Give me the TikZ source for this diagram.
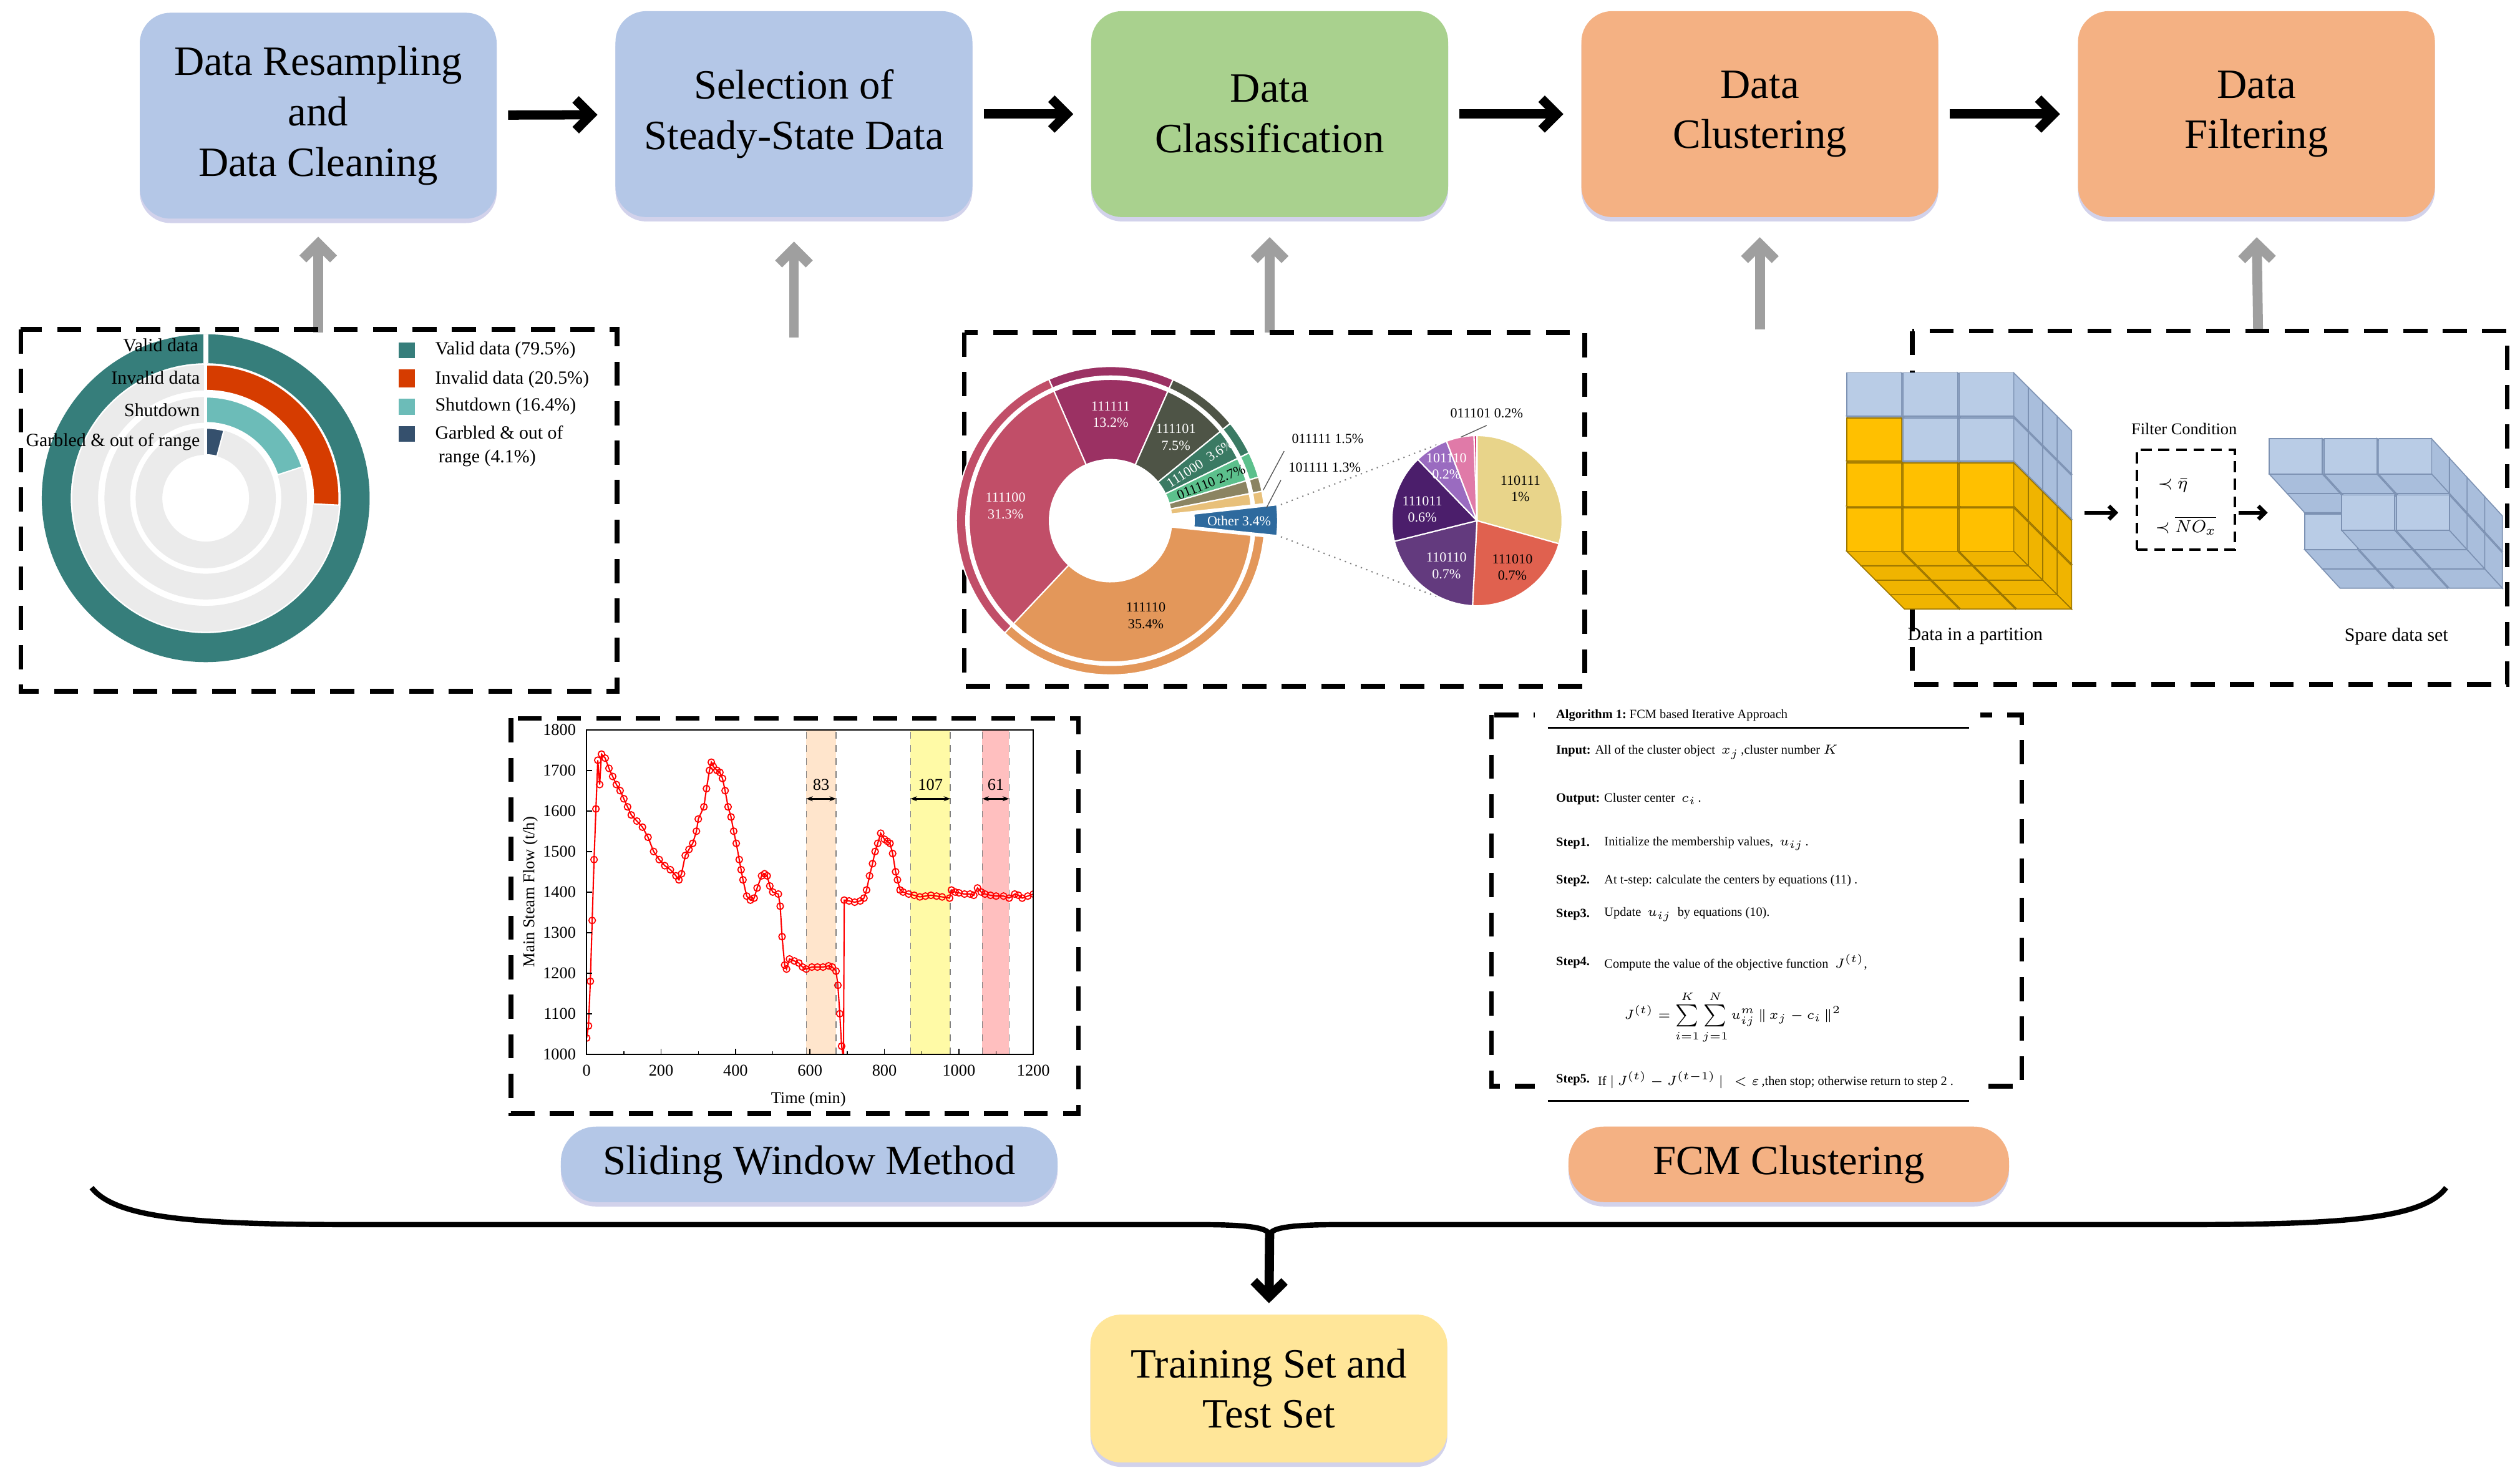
\documentclass[tikz,border=0pt]{standalone}
\usepackage{fontspec}
\setmainfont{Liberation Serif}
\usetikzlibrary{arrows.meta,shadows,calc,plotmarks}
\definecolor{boxblue}{HTML}{B4C7E7}
\definecolor{boxgreen}{HTML}{A9D18E}
\definecolor{boxorange}{HTML}{F4B183}
\definecolor{boxyellow}{HTML}{FFE699}
\definecolor{cteal}{HTML}{367E7B}
\definecolor{cred}{HTML}{D63C00}
\definecolor{cltl}{HTML}{6CBCB8}
\definecolor{cdkb}{HTML}{35506D}
\definecolor{cgray}{HTML}{EBEBEB}
\definecolor{pA}{HTML}{9B3163}
\definecolor{pB}{HTML}{4E5446}
\definecolor{pC}{HTML}{3A7A63}
\definecolor{pD}{HTML}{5CC08C}
\definecolor{pE}{HTML}{8B8462}
\definecolor{pF}{HTML}{E8C07A}
\definecolor{pG}{HTML}{2E6A9E}
\definecolor{pH}{HTML}{E3975A}
\definecolor{pI}{HTML}{C14E68}
\definecolor{sA}{HTML}{E8D48A}
\definecolor{sB}{HTML}{E0614F}
\definecolor{sC}{HTML}{633A7E}
\definecolor{sD}{HTML}{4B1E6B}
\definecolor{sE}{HTML}{9A6BC0}
\definecolor{sF}{HTML}{E07AA8}
\definecolor{sG}{HTML}{D43A7A}
\definecolor{cubeB}{HTML}{B9CCE6}
\definecolor{cubeBd}{HTML}{A9BEDC}
\definecolor{cubeBs}{HTML}{7D92B3}
\definecolor{cubeY}{HTML}{FFC000}
\definecolor{cubeYd}{HTML}{F0B400}
\definecolor{cubeYs}{HTML}{9C7600}
\newcommand\pieseg[5]{\fill[#5,draw=white,line width=0.6pt] (#3:#2) arc[start angle=#3,end angle=#4,radius=#2] -- (#4:#1) arc[start angle=#4,end angle=#3,radius=#1] -- cycle;}
\newcommand\mycube[6]{%
  \filldraw[#6] (#1+#3,#2) -- ++(\cdx,\cdy) -- ++(0,#4) -- ++(-\cdx,-\cdy) -- cycle;
  \filldraw[#6] (#1,#2+#4) -- ++(#3,0) -- ++(\cdx,\cdy) -- ++(-#3,0) -- cycle;
  \filldraw[#5] (#1,#2) rectangle ++(#3,#4);}
\begin{document}
\begin{tikzpicture}[x=0.02576cm,y=-0.02576cm,
  topbox/.style={rounded corners=14pt,minimum width=5.72cm,minimum height=3.3cm,align=center,
     font=\fontsize{19pt}{23pt}\selectfont,drop shadow={shadow xshift=0pt,shadow yshift=-2pt,opacity=0.25,fill=blue!40!gray}},
  pill/.style={rounded corners=16pt,minimum height=1.21cm,align=center,
     font=\fontsize{19pt}{23pt}\selectfont,drop shadow={shadow xshift=0pt,shadow yshift=-2pt,opacity=0.25,fill=blue!40!gray}},
  barrow/.style={line width=4.2pt,-{Straight Barb[length=7pt,width=14pt]}},
  garrow/.style={line width=4.5pt,gray!75,-{Straight Barb[length=7pt,width=14pt]}},
  dbox/.style={line width=2.2pt,dash pattern=on 11pt off 7pt},
  lbl/.style={font=\fontsize{8.5pt}{10pt}\selectfont},
  pl/.style={font=\fontsize{6.3pt}{7.5pt}\selectfont,align=center},
  al/.style={font=\fontsize{5.8pt}{7pt}\selectfont,anchor=west,inner sep=0pt},
  blueC/.style={fill=cubeB,draw=cubeBs,line width=0.45pt},
  blueS/.style={fill=cubeBd,draw=cubeBs,line width=0.45pt},
  yelC/.style={fill=cubeY,draw=cubeYs,line width=0.45pt},
  yelS/.style={fill=cubeYd,draw=cubeYs,line width=0.45pt}]
\useasboundingbox (0,0) rectangle (1568,922.7);
\fill[white] (0,0) rectangle (1568,922.7);

% ---------- top boxes ----------
\node[topbox,fill=boxblue] (b1) at (198,72) {Data Resampling\\and\\Data Cleaning};
\node[topbox,fill=boxblue] (b2) at (494,71) {Selection of\\Steady-State Data};
\node[topbox,fill=boxgreen] (b3) at (790,71) {Data\\Classification};
\node[topbox,fill=boxorange] (b4) at (1095,71) {Data\\Clustering};
\node[topbox,fill=boxorange] (b5) at (1404,71) {Data\\Filtering};
\foreach \a/\b in {b1/b2,b2/b3,b3/b4,b4/b5}
  \draw[barrow,shorten <=5pt,shorten >=8pt] (\a) -- (\b);

% ---------- gray arrows ----------
\coordinate (g1) at (198,207); \coordinate (g2) at (494,210); \coordinate (g3) at (790,207);
\coordinate (g4) at (1095,205); \coordinate (g5) at (1405,205);
\draw[garrow,shorten >=8pt] (g1) -- (b1.south);
\draw[garrow,shorten >=11pt] (g2) -- (b2.south);
\draw[garrow,shorten >=9pt] (g3) -- (b3.south);
\draw[garrow,shorten >=9pt] (g4) -- (b4.south);
\draw[garrow,shorten >=9pt] (g5) -- (b5.south);

% ---------- dashed panels ----------
\draw[dbox] (13,205) rectangle (384,430);
\draw[dbox] (600,207) rectangle (986,427);
\draw[dbox] (1190,206) rectangle (1560,426);
\draw[dbox] (318,447) rectangle (671,693);
\draw[dbox] (928,445) rectangle (1258,676);

% ---------- radial bar chart ----------
\begin{scope}[shift={(128,310)},yscale=-1]
  \fill[cteal,even odd rule] (0,0) circle (102) (0,0) circle (84);
  \fill[white] (-1.5,84) rectangle (1.5,102);
  \fill[cgray,even odd rule] (0,0) circle (83) (0,0) circle (67);
  \fill[cgray,even odd rule] (0,0) circle (63) (0,0) circle (47);
  \fill[cgray,even odd rule] (0,0) circle (43.6) (0,0) circle (27);
  \pieseg{67}{83}{90}{-3}{cred}
  \pieseg{47}{63}{90}{18}{cltl}
  \pieseg{27}{43.6}{90}{75}{cdkb}
  \fill[white] (-1,27) rectangle (1,102);
\end{scope}
\node[lbl,anchor=east,inner sep=1pt] (l1) at (125,215) {Valid data};
\node[lbl,anchor=east,inner sep=1pt] (l2) at (126,235) {Invalid data};
\node[lbl,anchor=east,inner sep=1pt] (l3) at (126,255) {Shutdown};
\node[lbl,anchor=east,inner sep=1pt] (l4) at (126,275) {Garbled \& out of range};
\fill[cteal] (248,213) rectangle (258,223);
\fill[cred] (248,230) rectangle (258,241);
\fill[cltl] (248,248) rectangle (258,258);
\fill[cdkb] (248,265) rectangle (258,275);
\node[lbl,anchor=west] (lg1) at (266,218) {Valid data (79.5\%)};
\node[lbl,anchor=west] (lg2) at (266,236) {Invalid data (20.5\%)};
\node[lbl,anchor=west] (lg3) at (266,253) {Shutdown (16.4\%)};
\node[lbl,anchor=west] (lg4) at (266,269) {Garbled \& out of};
\node[lbl,anchor=west] (lg5) at (268,285) {range (4.1\%)};

% ---------- donut pie ----------
\begin{scope}[shift={(691,324)},yscale=-1]
  \pieseg{38}{88}{113.6}{66.1}{pA}
  \pieseg{38}{88}{66.1}{39.1}{pB}
  \pieseg{38}{88}{39.1}{26.1}{pC}
  \pieseg{38}{88}{26.1}{16.4}{pD}
  \pieseg{38}{88}{16.4}{11.0}{pE}
  \pieseg{38}{88}{11.0}{6.3}{pF}
  \pieseg{38}{88}{-5.9}{-133.3}{pH}
  \pieseg{38}{88}{-133.3}{-246.4}{pI}
  \pieseg{90}{96}{113.6}{66.1}{pA}
  \pieseg{90}{96}{66.1}{39.1}{pB}
  \pieseg{90}{96}{39.1}{26.1}{pC}
  \pieseg{90}{96}{26.1}{16.4}{pD}
  \pieseg{90}{96}{16.4}{11.0}{pE}
  \pieseg{90}{96}{11.0}{6.3}{pF}
  \pieseg{90}{96}{-5.9}{-133.3}{pH}
  \pieseg{90}{96}{-133.3}{-246.4}{pI}
  \begin{scope}[shift={(14,0)}]
    \pieseg{38}{90}{6.3}{-5.9}{pG}
  \end{scope}
  \node[pl,white] (t1) at (90:66) {111111\\13.2\%};
  \node[pl,white] (t2) at (52:66) {111101\\7.5\%};
  \node[pl,white,rotate=33] (t3) at (32.6:66) {111000\ \ 3.6\%};
  \node[pl,rotate=22] (t4) at (21:67) {011110 2.7\%};
  \node[pl,white,inner sep=0pt] (t5) at (80,0) {Other 3.4\%};
  \node[pl] (t6) at (-69.6:63) {111110\\35.4\%};
  \node[pl,white] (t7) at (-188:66) {111100\\31.3\%};
\end{scope}
\node[pl,anchor=west] (c1) at (799,273) {011111 1.5\%};
\node[pl,anchor=west] (c2) at (797,291) {101111 1.3\%};
\coordinate (c1a) at (786,305); \coordinate (c2a) at (788,316);
\draw[gray!70!black,line width=0.4pt] (c1a) -- (c1.south west);
\draw[gray!70!black,line width=0.4pt] (c2a) -- (c2.south west);
\coordinate (o1) at (797,314); \coordinate (o2) at (797,334);
\coordinate (p1) at (896,276); \coordinate (p2) at (896,372);
\draw[gray,dotted,line width=0.6pt] (o1) -- (p1);
\draw[gray,dotted,line width=0.6pt] (o2) -- (p2);
\begin{scope}[shift={(919,324)},yscale=-1]
  \pieseg{0.01}{53}{90}{-15.7}{sA}
  \pieseg{0.01}{53}{-15.7}{-93}{sB}
  \pieseg{0.01}{53}{-93}{-166}{sC}
  \pieseg{0.01}{53}{-166}{-226}{sD}
  \pieseg{0.01}{53}{134}{111}{sE}
  \pieseg{0.01}{53}{111}{92}{sF}
  \pieseg{0.01}{53}{92}{90}{sG}
  \node[pl] (u1) at (27,20) {110111\\1\%};
  \node[pl] (u2) at (22,-29) {111010\\0.7\%};
  \node[pl,white] (u3) at (-19,-28) {110110\\0.7\%};
  \node[pl,white] (u4) at (-34,7) {111011\\0.6\%};
  \node[pl,white] (u5) at (-19,34) {101110\\0.2\%};
\end{scope}
\node[pl] (u6) at (925,257) {011101 0.2\%};
\coordinate (u6a) at (909,272);
\draw[gray!70!black,line width=0.4pt] (u6a) -- (u6.south);

% ---------- cubes ----------
\def\cdx{9}\def\cdy{9}
\foreach \d in {3,2,1,0}{\foreach \j in {0,...,3}{\foreach \i in {0,1,2}{%
  \pgfmathsetmacro\xx{1149+35*\i+9*\d}\pgfmathsetmacro\yy{232+28*\j+9*\d}%
  \pgfmathtruncatemacro\isb{(\j==0 || (\j==1 && \i>0)) ? 1 : 0}%
  \ifnum\isb=1 \mycube{\xx}{\yy}{34}{27}{blueC}{blueS}\else\mycube{\xx}{\yy}{34}{27}{yelC}{yelS}\fi}}}
\def\cdx{11}\def\cdy{12}
\foreach \d in {3,2,1,0}{\foreach \j in {0,1}{\foreach \i in {0,1,2}{%
  \pgfmathsetmacro\xx{1412+34*\i+11*\d}\pgfmathsetmacro\yy{273+23*\j+12*\d}%
  \pgfmathtruncatemacro\isb{(\j==0 || (\d>=1 && \i>0) || \d>=2) ? 1 : 0}%
  \ifnum\isb=1 \mycube{\xx}{\yy}{33}{22}{blueC}{blueS}\fi}}}
\node[font=\fontsize{7.5pt}{9pt}\selectfont] (fc) at (1359,267) {Filter Condition};
\node[draw,line width=1.1pt,dash pattern=on 5pt off 3pt,minimum width=1.57cm,minimum height=1.6cm] (fb) at (1360,311) {};
\node[font=\fontsize{8pt}{9pt}\selectfont] (f1) at (1352,302) {$\prec\bar{\eta}$};
\node[font=\fontsize{8pt}{9pt}\selectfont] (f2) at (1360,327) {$\prec\overline{NO_x}$};
\coordinate (ca) at (1297,319); \coordinate (cb) at (1318,319);
\coordinate (cc) at (1393,319); \coordinate (cd) at (1411,319);
\draw[line width=1.8pt,-{Straight Barb[length=3pt,width=6pt]}] (ca) -- (cb);
\draw[line width=1.8pt,-{Straight Barb[length=3pt,width=6pt]}] (cc) -- (cd);
\node[lbl] (dp) at (1229,396) {Data in a partition};
\node[lbl] (sd) at (1491,396) {Spare data set};

% ---------- line chart ----------
\begin{scope}[shift={(365,656)}]
\begin{scope}[x=0.005968cm,y=0.0065044cm,shift={(0,-1000)}]
  \fill[orange!20] (590,1000) rectangle (670,1800);
  \fill[yellow!35] (870,1000) rectangle (977,1800);
  \fill[red!25] (1063,1000) rectangle (1135,1800);
  \foreach \t in {590,670,870,977,1063,1135}
    \draw[gray,dashed,line width=0.4pt] (\t,1000) -- (\t,1800);
  \foreach \a/\b/\n in {590/670/83,870/977/107,1063/1135/61}{
    \draw[line width=0.7pt,{Stealth[length=3pt]}-{Stealth[length=3pt]}] (\a,1630) -- (\b,1630);
    \node[font=\fontsize{7.5pt}{8pt}\selectfont] at ({(\a+\b)/2},1665) {\n};}
  \begin{scope}
  \clip (0,1000) rectangle (1200,1800);
  \draw[red,line width=0.6pt,mark=o,mark size=1.5pt,mark options={line width=0.5pt}] plot coordinates {
  (0,1040)(5,1070)(10,1180)(15,1330)(20,1480)(25,1605)(30,1725)(35,1665)(40,1740)(50,1730)(60,1705)
  (70,1685)(80,1665)(90,1650)(100,1630)(110,1610)(120,1590)(135,1575)(150,1560)(165,1535)(180,1500)
  (195,1480)(210,1465)(225,1455)(240,1440)(248,1430)(255,1445)(265,1490)(275,1505)(285,1520)(295,1550)
  (300,1580)(315,1610)(322,1655)(330,1700)(335,1720)(340,1710)(350,1700)(358,1695)(365,1680)(372,1650)
  (380,1610)(388,1585)(395,1550)(402,1520)(410,1480)(415,1455)(420,1430)(430,1390)(440,1380)(450,1385)
  (458,1410)(470,1440)(478,1445)(485,1440)(492,1415)(500,1400)(515,1395)(520,1365)(525,1290)(532,1220)
  (537,1210)(545,1235)(558,1230)(570,1225)(580,1215)(590,1210)(605,1215)(620,1215)(635,1215)(650,1218)
  (660,1215)(670,1205)(675,1170)(680,1100)(685,1020)(690,990)(692,1380)(705,1378)(720,1375)(735,1378)
  (745,1385)(752,1405)(760,1440)(768,1470)(775,1500)(782,1520)(790,1545)(800,1530)(808,1525)(815,1520)
  (822,1495)(830,1450)(835,1430)(842,1405)(850,1400)(865,1395)(880,1392)(895,1388)(910,1390)(925,1392)
  (940,1390)(955,1388)(975,1385)(980,1405)(990,1400)(1000,1398)(1015,1395)(1030,1395)(1040,1392)
  (1050,1410)(1060,1400)(1070,1395)(1085,1392)(1100,1390)(1120,1390)(1135,1385)(1150,1395)(1160,1392)
  (1170,1385)(1185,1390)(1200,1395)};
  \end{scope}
  \draw[line width=0.5pt] (0,1000) rectangle (1200,1800);
  \foreach \t in {0,200,...,1200}{
    \draw[line width=0.5pt] (\t,1000) -- ++(0,14);
    \node[font=\fontsize{7.5pt}{8pt}\selectfont,anchor=north] at (\t,992) {\t};}
  \foreach \t in {100,300,...,1100} \draw[line width=0.4pt] (\t,1000) -- ++(0,8);
  \foreach \v in {1000,1100,...,1800}{
    \draw[line width=0.5pt] (0,\v) -- ++(14,0);
    \node[font=\fontsize{7.5pt}{8pt}\selectfont,anchor=east] at (-8,\v) {\v};}
\end{scope}
\end{scope}
\node[font=\fontsize{7.5pt}{9pt}\selectfont,rotate=90] (yl) at (330,555) {Main Steam Flow (t/h)};
\node[font=\fontsize{7.5pt}{9pt}\selectfont] (xl) at (503,684) {Time (min)};

% ---------- algorithm ----------
\fill[white] (955,438) rectangle (1232,452);
\fill[white] (955,665) rectangle (1232,680);
\node[al] (a0) at (968,445) {\textbf{Algorithm 1:}\ FCM based Iterative Approach};
\draw[line width=0.8pt] (963,453) -- (1225,453);
\node[al] (a1) at (968,468) {\textbf{Input:} All of the cluster object\ \ $x_j$\,,cluster number $K$};
\node[al] (a2) at (968,497) {\textbf{Output:} Cluster center\ \ $c_i$\,.};
\node[al] (s1) at (968,525) {\textbf{Step1.}};
\node[al] (s1t) at (998,525) {Initialize the membership values,\ \ $u_{ij}$\,.};
\node[al] (s2) at (968,548) {\textbf{Step2.}};
\node[al] (s2t) at (998,548) {At t-step: calculate the centers by equations (11) .};
\node[al] (s3) at (968,569) {\textbf{Step3.}};
\node[al] (s3t) at (998,569) {Update\ \ $u_{ij}$\ \ by equations (10).};
\node[al] (s4) at (968,599) {\textbf{Step4.}};
\node[al] (s4t) at (998,599) {Compute the value of the objective function\ \ $J^{(t)}$,};
\node[font=\fontsize{6.5pt}{8pt}\selectfont,inner sep=0pt] (eq) at (1078,633) {$J^{(t)}=\sum\limits_{i=1}^{K}\sum\limits_{j=1}^{N}u_{ij}^{m}\,\|\,x_j-c_i\,\|^2$};
\node[al] (s5) at (968,672) {\textbf{Step5.}};
\node[al] (s5t) at (994,672) {If\ $|\,J^{(t)}-J^{(t-1)}\,|\ \ <\varepsilon$\,,then stop; otherwise return to step 2 .};
\draw[line width=0.8pt] (963,685) -- (1225,685);

% ---------- bottom ----------
\node[pill,fill=boxblue,minimum width=7.96cm] (sw) at (503.5,724.5) {Sliding Window Method};
\node[pill,fill=boxorange,minimum width=7.06cm] (fcm) at (1113,724.5) {FCM Clustering};
\draw[line width=2.4pt] (57,739) .. controls (72,758) and (120,762) .. (220,762) -- (745,762)
  .. controls (778,762) and (788,764) .. (790,768) .. controls (792,764) and (802,762) .. (835,762)
  -- (1360,762) .. controls (1460,762) and (1508,758) .. (1522,739);
\coordinate (bt) at (790,766);
\node[topbox,fill=boxyellow,minimum height=2.37cm] (tr) at (789.5,864) {Training Set and\\Test Set};
\draw[barrow,shorten >=5pt] (bt) -- (tr.north);
\end{tikzpicture}
\end{document}
